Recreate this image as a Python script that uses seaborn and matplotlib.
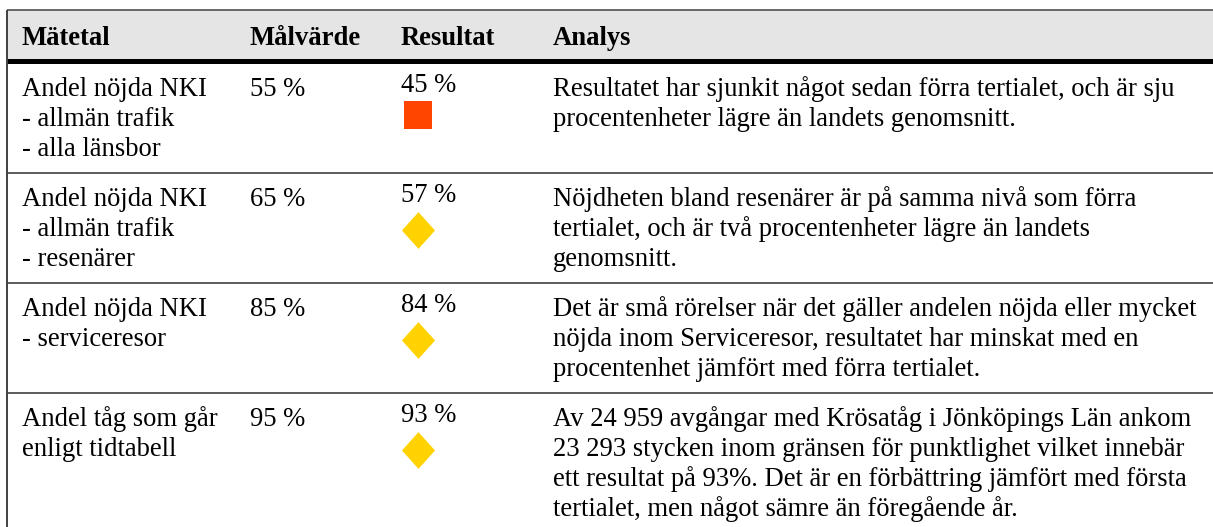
import matplotlib.pyplot as plt
import matplotlib.patches as mpatches
import pandas as pd
import seaborn as sns


HEADERS = ["Mätetal", "Målvärde", "Resultat", "Analys"]
METRICS = [
    "Andel nöjda NKI\n- allmän trafik\n- alla länsbor",
    "Andel nöjda NKI\n- allmän trafik\n- resenärer",
    "Andel nöjda NKI\n- serviceresor",
    "Andel tåg som går\nenligt tidtabell",
]
TARGETS = ["55 %", "65 %", "85 %", "95 %"]
RESULTS = ["45 %", "57 %", "84 %", "93 %"]
STATUS = ["röd", "gul", "gul", "gul"]
ANALYSES = [
    "Resultatet har sjunkit något sedan förra tertialet, och är sju\n"
    "procentenheter lägre än landets genomsnitt.",
    "Nöjdheten bland resenärer är på samma nivå som förra\n"
    "tertialet, och är två procentenheter lägre än landets\n"
    "genomsnitt.",
    "Det är små rörelser när det gäller andelen nöjda eller mycket\n"
    "nöjda inom Serviceresor, resultatet har minskat med en\n"
    "procentenhet jämfört med förra tertialet.",
    "Av 24 959 avgångar med Krösatåg i Jönköpings Län ankom\n"
    "23 293 stycken inom gränsen för punktlighet vilket innebär\n"
    "ett resultat på 93%. Det är en förbättring jämfört med första\n"
    "tertialet, men något sämre än föregående år.",
]

# layout in pixel coordinates
W, H = 1213, 527
COL_X = [22, 250, 401, 553]
ROW_TOPS = [63, 172.5, 283, 392.5]
LINE_GAP = 30
FONT_SIZE = 19.2

sns.set_theme(style="white")
plt.rcParams["font.family"] = ["Liberation Serif", "DejaVu Serif"]
plt.rcParams["text.color"] = "black"

fig = plt.figure(figsize=(W / 100, H / 100), dpi=100)
ax = fig.add_axes([0, 0, 1, 1])
ax.set_xlim(0, W)
ax.set_ylim(H, 0)
ax.axis("off")

# header band and rules
ax.add_patch(mpatches.Rectangle((7, 10), W - 7, 48, color="#e5e5e5", zorder=0))
ax.hlines(10, 7, W, color="#505050", lw=1.2)
ax.hlines(60.5, 7, W, color="black", lw=3.6)
ax.hlines(ROW_TOPS[1:], 7, W, color="#404040", lw=1.2)
ax.vlines(7, 10, H, color="#404040", lw=1.4)

for x, label in zip(COL_X, HEADERS):
    ax.text(x, 45, label, fontsize=FONT_SIZE, fontweight="bold", va="baseline")


def draw_cell(x, top, text):
    for i, line in enumerate(text.split("\n")):
        ax.text(x, top + 33 + i * LINE_GAP, line, fontsize=FONT_SIZE, va="baseline")


for top, metric, target, result, analysis in zip(ROW_TOPS, METRICS, TARGETS, RESULTS, ANALYSES):
    draw_cell(COL_X[0], top, metric)
    draw_cell(COL_X[1], top, target)
    ax.text(COL_X[2], top + 29, result, fontsize=FONT_SIZE, va="baseline")
    draw_cell(COL_X[3], top, analysis)

# status markers below each result
markers = pd.DataFrame({
    "x": [418] * len(STATUS),
    "y": [top + 29 + (23 if s == "röd" else 28) for top, s in zip(ROW_TOPS, STATUS)],
    "status": STATUS,
})
diamond = [(0, 1), (0.9, 0), (0, -1), (-0.9, 0), (0, 1)]
square = [(-1, -1), (1, -1), (1, 1), (-1, 1), (-1, -1)]

for status, marker, size, color in [("röd", square, 406, "#ff4500"), ("gul", diamond, 700, "#ffd200")]:
    sub = markers[markers["status"] == status]
    sns.scatterplot(data=sub, x="x", y="y", marker=marker, s=size, color=color,
                    linewidth=0, ax=ax, legend=False, zorder=3)

ax.set_xlim(0, W)
ax.set_ylim(H, 0)
ax.axis("off")
fig.savefig("out.png", dpi=100)
